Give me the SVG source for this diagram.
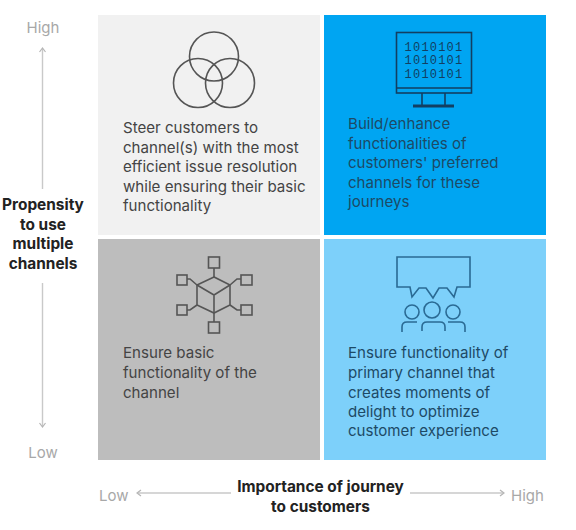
<svg xmlns="http://www.w3.org/2000/svg" width="576" height="530" viewBox="0 0 576 530">
<style>
text{font-family:"Inter","Liberation Sans",sans-serif}
.b{font-size:15.1px;fill:#444}
.d{font-size:15.1px;fill:#1d4a66}
.ax{font-size:15px;fill:#a8a8a8}
.t{font-size:15.4px;font-weight:700;fill:#222;text-anchor:middle}
.i{fill:none;stroke-width:1.6}
.l{fill:none;stroke:#c9c9c9;stroke-width:1.4}
.a{fill:none;stroke:#b5b5b5;stroke-width:1.2}
</style>
<rect width="576" height="530" fill="#fff"/>
<g id="node-top-left">
<rect x="98" y="15" width="222" height="220" fill="#f1f1f1"/>
<g class="i" stroke="#555"><circle cx="214" cy="56.500" r="24.500"/><circle cx="198" cy="83" r="24.500"/><circle cx="230" cy="83" r="24.500"/></g>
<text class="b"><tspan x="123" y="133">Steer customers to</tspan><tspan x="123" y="153">channel(s) with the most</tspan><tspan x="123" y="172">efficient issue resolution</tspan><tspan x="123" y="192">while ensuring their basic</tspan><tspan x="123" y="211">functionality</tspan></text>
</g>
<g id="node-top-right">
<rect x="324" y="15" width="222" height="220" fill="#00a5f2"/>
<g class="i" stroke="#123f62"><rect x="396.500" y="32.500" width="75" height="60.500"/><path d="M396.500 88H471.500M422 93V106M445 93V106"/><path d="M413 106H454" stroke-width="3"/></g>
<text font-size="12" letter-spacing="1.200" fill="#123f62" style="font-family:'Liberation Mono',monospace" text-anchor="middle"><tspan x="434" y="50.500">1010101</tspan><tspan x="434" y="64">1010101</tspan><tspan x="434" y="77.500">1010101</tspan></text>
<text class="d"><tspan x="348" y="129">Build/enhance</tspan><tspan x="348" y="149">functionalities of</tspan><tspan x="348" y="168">customers' preferred</tspan><tspan x="348" y="188">channels for these</tspan><tspan x="348" y="207">journeys</tspan></text>
</g>
<g id="node-bottom-left">
<rect x="98" y="239" width="222" height="221" fill="#bdbdbd"/>
<g class="i" stroke="#555"><path d="M214 277L197 285V305L214 313L230 305V285Z"/><path d="M197 285L214 295L230 285M214 295V322"/><path d="M214 268V277M197 285L190 279H187M230 285L237 279H241M197 305L190 310H187M230 305L237 310H241"/><rect x="208.500" y="257" width="11" height="11"/><rect x="177" y="275" width="10" height="10"/><rect x="241" y="275" width="11" height="10"/><rect x="177" y="305" width="10" height="10"/><rect x="241" y="305" width="11" height="10"/><rect x="208.500" y="322" width="11" height="11"/></g>
<text class="b"><tspan x="123" y="358">Ensure basic</tspan><tspan x="123" y="378">functionality of the</tspan><tspan x="123" y="398">channel</tspan></text>
</g>
<g id="node-bottom-right">
<rect x="324" y="239" width="222" height="221" fill="#7dd0fa"/>
<g class="i" stroke="#2a6a94"><path d="M397 257H470V287H457L454 297L447 288H439L433 298L426 288H419L412 297L410 287H397Z"/><circle cx="412" cy="312" r="7"/><circle cx="432" cy="310" r="8"/><circle cx="453" cy="312" r="7"/><path d="M402 332V327Q402 322 407 322H417M422 331V327Q422 322 427 322H440Q445 322 445 327V331M448 322H460Q465 322 465 327V332"/></g>
<text class="d"><tspan x="348" y="358">Ensure functionality of</tspan><tspan x="348" y="378">primary channel that</tspan><tspan x="348" y="398">creates moments of</tspan><tspan x="348" y="417">delight to optimize</tspan><tspan x="348" y="436">customer experience</tspan></text>
</g>
<g id="connectors">
<path class="l" d="M42.500 189V49"/><path class="a" d="M39.500 52L42.500 48L45.500 52"/>
<path class="l" d="M42.500 283V426"/><path class="a" d="M39.500 423L42.500 427L45.500 423"/>
<path class="l" d="M231 493H138"/><path class="a" d="M141 490L137 493L141 496"/>
<path class="l" d="M410 493H503"/><path class="a" d="M500 490L504 493L500 496"/>
</g>
<g id="axis-labels">
<text class="ax" x="43" y="33" text-anchor="middle">High</text>
<text class="ax" x="43" y="458" text-anchor="middle">Low</text>
<text class="ax" x="99" y="501">Low</text>
<text class="ax" x="511" y="501">High</text>
<text class="t"><tspan x="43" y="210">Propensity</tspan><tspan x="43" y="230">to use</tspan><tspan x="43" y="249">multiple</tspan><tspan x="43" y="269">channels</tspan></text>
<text class="t"><tspan x="320.500" y="492">Importance of journey</tspan><tspan x="320.500" y="512">to customers</tspan></text>
</g>
</svg>
